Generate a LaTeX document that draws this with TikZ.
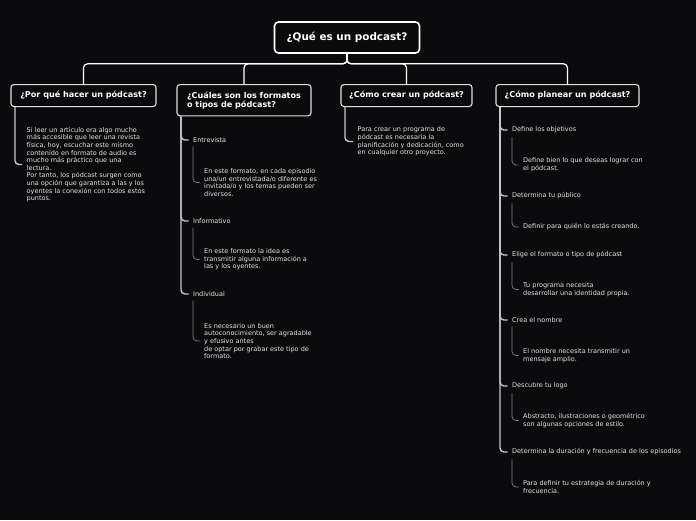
\documentclass[tikz,border=0pt]{standalone}
\usepackage{fontspec}
\setmainfont{DejaVu Sans}
\usepackage{tikz}
\usepackage{xcolor}

\definecolor{fondo}{HTML}{0B0B0D}

\begin{document}
\begin{tikzpicture}[x=1pt,y=-1pt,
  raiz/.style={draw=white,line width=1.6pt,rounded corners=4pt,fill=fondo,text=white,
    font=\fontsize{10.4}{12}\selectfont\bfseries,minimum width=145pt,minimum height=31pt},
  tema/.style={draw=white!88!black,line width=1.1pt,rounded corners=3pt,fill=fondo,text=white,
    font=\fontsize{8.1}{9.2}\selectfont\bfseries,align=left,inner xsep=8pt,minimum height=22pt},
  rama/.style={anchor=west,text=white!90!black,font=\fontsize{6.5}{7.6}\selectfont,
    align=left,inner xsep=4.5pt,inner ysep=0pt},
  tronco/.style={draw=white,line width=1.2pt,rounded corners=4pt},
  eje/.style={draw=white!78!black,line width=1.4pt,rounded corners=4pt},
  hilo/.style={draw=white!50!black,line width=0.7pt,rounded corners=4pt}]
  \fill[fondo] (0,0) rectangle (696,520);
  \useasboundingbox (0,0) rectangle (696,520);

  % raiz y temas
  \node[raiz] (raiz) at (347,37.5) {¿Qué es un podcast?};
  \node[tema,anchor=north,minimum width=145pt] (por) at (83.5,84) {¿Por qué hacer un pódcast?};
  \node[tema,anchor=north,minimum width=134pt,inner ysep=7pt] (cua) at (244,84) {¿Cuáles son los formatos\\o tipos de pódcast?};
  \node[tema,anchor=north,minimum width=131pt] (cre) at (406.5,84) {¿Cómo crear un pódcast?};
  \node[tema,anchor=north,minimum width=143pt] (pla) at (567.5,84) {¿Cómo planear un pódcast?};
  \foreach \t in {por,cua,cre,pla}
    \draw[tronco] (raiz.south) -- ++(0,10) -| (\t.north);

  % por que
  \node[rama] (porT) at (22,164.5) {Si leer un artículo era algo mucho\\más accesible que leer una revista\\física, hoy, escuchar este mismo\\contenido en formato de audio es\\mucho más práctico que una\\lectura.\\Por tanto, los pódcast surgen como\\una opción que garantiza a las y los\\oyentes la conexión con todos estos\\puntos.};
  \draw[eje] ([xshift=4.5pt]por.south west) |- (porT.west);

  % formatos
  \node[rama] (ent) at (188.5,140) {Entrevista};
  \node[rama] (entT) at (199.5,182.5) {En este formato, en cada episodio\\una/un entrevistada/o diferente es\\invitada/o y los temas pueden ser\\diversos.};
  \node[rama] (inf) at (188.5,221) {Informativo};
  \node[rama] (infT) at (199.5,259.5) {En este formato la idea es\\transmitir alguna información a\\las y los oyentes.};
  \node[rama] (ind) at (188.5,294) {Individual};
  \node[rama] (indT) at (199.5,341) {Es necesario un buen\\autoconocimiento, ser agradable\\y efusivo antes\\de optar por grabar este tipo de\\formato.};
  \foreach \r in {ent,inf,ind} {
    \draw[eje] ([xshift=4.5pt]cua.south west) |- (\r.west);
    \draw[hilo] ([xshift=4.5pt,yshift=-4pt]\r.south west) |- (\r T.west);
  }

  % crear
  \node[rama] (creT) at (353,141.5) {Para crear un programa de\\pódcast es necesaria la\\planificación y dedicación, como\\en cualquier otro proyecto.};
  \draw[eje] ([xshift=4.5pt]cre.south west) |- (creT.west);

  % planear
  \node[rama] (obj) at (507.5,130) {Define los objetivos};
  \node[rama] (objT) at (518.5,165) {Define bien lo que deseas lograr con\\el pódcast.};
  \node[rama] (pub) at (507.5,196) {Determina tu público};
  \node[rama] (pubT) at (518.5,227) {Definir para quién lo estás creando.};
  \node[rama] (for) at (507.5,255) {Elige el formato o tipo de pódcast};
  \node[rama] (forT) at (518.5,289.5) {Tu programa necesita\\desarrollar una identidad propia.};
  \node[rama] (nom) at (507.5,320) {Crea el nombre};
  \node[rama] (nomT) at (518.5,355.5) {El nombre necesita transmitir un\\mensaje amplio.};
  \node[rama] (log) at (507.5,386) {Descubre tu logo};
  \node[rama] (logT) at (518.5,420.5) {Abstracto, ilustraciones o geométrico\\son algunas opciones de estilo.};
  \node[rama] (dur) at (507.5,452) {Determina la duración y frecuencia de los episodios};
  \node[rama] (durT) at (518.5,487) {Para definir tu estrategia de duración y\\frecuencia.};
  \foreach \r in {obj,pub,for,nom,log,dur} {
    \draw[eje] ([xshift=4.5pt]pla.south west) |- (\r.west);
    \draw[hilo] ([xshift=4.5pt,yshift=-4pt]\r.south west) |- (\r T.west);
  }
\end{tikzpicture}
\end{document}
